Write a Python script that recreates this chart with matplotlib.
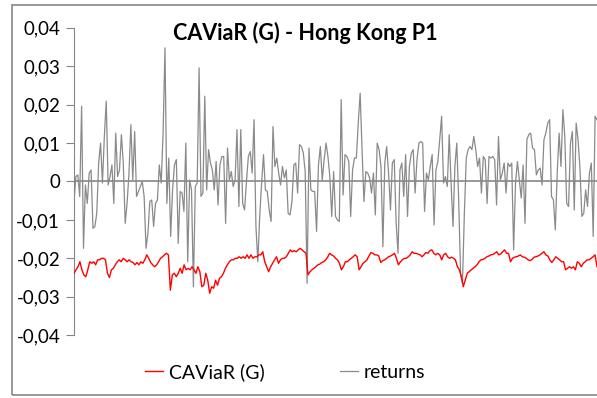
import numpy as np
import matplotlib
matplotlib.use("Agg")
import matplotlib.pyplot as plt
from matplotlib.patches import Rectangle

# values, in units of 1e-4
returns_bp = [
    -50, 13, 17, -39, 196, -174, -9, -57, 22, 30, -122, -117, -83, 48, 100, -4, 117, 209, -9, 13,
    43, -57, 126, 13, 30, 122, 48, -109, -57, 22, 148, 4, 130, -39, -26, -13, 0, -39, -174, -135,
    -52, -48,
    -117, -57, -48, 43, -4, 126, 348, -57, 61, -143, -22, 43, 57, -161, -26, -30, -78, 100, -209, 4,
    -22, -274, -13, -4, 296, -39, -30, 222, -22, 83, 48, 30, -22, 52, -61, 43, 65, 65, -109, 87,
    4, 26, -13, 4, 135, -65,
    135, -57, -74, 0, 65, 78, 22, 161, -117, -209, -91, -4, 70, -22, -26, -74, -104, 143, 39, 61,
    22, -9, 39, 9, 30, -83, -87, -52, 43, 48, -30, 96, 91, 74, 26, -265, 87, -22, -26, -26,
    -130, 43, 91, 4, 57, 100, 65, 13, -91,
    26, -91, -100, -104, 213, -35, 70, 65, 52, -91, 30, 61, 61, 152, 230, 83, -52, 26, 22, 9,
    -30, 22, -87, 100, 83, 39, -170, 48, 91, 22, -74, 48, 57, -109, -187, 30, 48, -39, 70, -91,
    39, 74, 83, -30, 57, 100, 104,
    100, -78, 22, 4, 39, 70, -113, 30, 52, 109, 170, -4, 13, -13, 122, -4, -117, 39, 100, -48,
    -239, -265, -83, 61, 83, 91, 83, 117, 83, 39, 61, -30, 65, 57, -57, 65, 61, 65, 57, -61,
    117, 4, 22, 48, -30, 48,
    39, 48, -178, -4, 52, 4, -43, 43, -109, 109, 122, 126, 87, 83, 17, 30, 35, -9, 109, 126,
    152, 161, -39, -48, -126, 22, 126, 39, 187, 117, -57, -65, 100, 130, -74, 152, 109, 35, -91, -83,
    -22, -65, 22, 48, -143, 170, 161,
]

caviar_bp = [
    -239, -230, -222, -209, -230, -243, -248, -230, -209, -213, -209, -217, -204, -204, -200, -200, -204, -239, -250, -230,
    -226, -217, -209, -204, -209, -200, -204, -209, -204, -209, -211, -217, -211, -217, -209, -213, -204, -191, -200, -211,
    -217, -222,
    -217, -209, -200, -196, -191, -187, -191, -283, -243, -239, -248, -239, -226, -239, -217, -230, -226, -230, -222, -230,
    -239, -222, -235, -274, -270, -239, -257, -291, -274, -278, -257, -270, -252, -248, -239, -226, -217, -209, -204, -204,
    -200, -200, -196, -200, -196, -200, -191, -200,
    -191, -200, -196, -196, -191, -191, -183, -209, -222, -235, -222, -213, -204, -196, -213, -204, -200, -200, -196, -187,
    -178, -183, -180, -183, -178, -174, -178, -183, -187, -243, -235, -230, -226, -222, -217, -215, -211, -209, -204, -197,
    -187,
    -191, -194, -200, -204, -213, -230, -222, -209, -209, -204, -200, -196, -191, -196, -230, -222, -213, -209, -204, -194,
    -185, -187, -191, -191, -194, -211, -206, -204, -200, -196, -194, -191, -187, -200, -217, -209, -204, -200, -200, -196,
    -191, -183, -187,
    -187, -189, -191, -196, -191, -185, -187, -180, -178, -187, -191, -187, -191, -204, -191, -187, -196, -200, -197, -200,
    -204, -222, -230, -248, -274, -257, -239, -235, -230, -226, -222, -217, -209, -204, -203, -200, -196, -194, -191, -190,
    -187, -183, -191, -189, -183, -178,
    -187, -187, -209, -200, -197, -196, -194, -191, -196, -197, -200, -204, -206, -203, -197, -196, -194, -191, -187, -183,
    -191, -194, -204, -211, -204, -196, -200, -204, -209, -209, -230, -226, -222, -226, -222, -230, -209, -213, -222, -213,
    -209, -204, -204, -200, -196, -191, -222,
]

y_ticks = [-0.04, -0.03, -0.02, -0.01, 0, 0.01, 0.02, 0.03, 0.04]
y_labels = ["-0,04", "-0,03", "-0,02", "-0,01", "0", "0,01", "0,02", "0,03", "0,04"]

returns = np.array(returns_bp) / 10000
caviar = np.array(caviar_bp) / 10000

plt.rcParams['font.family'] = ['Lato', 'DejaVu Sans']

fig = plt.figure(figsize=(5.97, 3.98), dpi=100)
ax = fig.add_axes([0.124, 0.158, 0.876, 0.772])

# both series share the same time span
t_ret = np.linspace(0, 1, len(returns))
t_cav = np.linspace(0, 1, len(caviar))

ax.axhline(0, color="#868686", lw=1.2, zorder=1)
ax.plot(t_ret, returns, color="#8a8a8a", lw=0.9, label="returns", zorder=2)
ax.plot(t_cav, caviar, color="#ff0000", lw=1.0, label="CAViaR (G)", zorder=3)

ax.set_xlim(0, 1)
ax.set_ylim(-0.04, 0.04)
ax.set_yticks(y_ticks)
ax.set_yticklabels(y_labels, fontsize=13.5)
ax.set_xticks([])
for s in ["top", "right", "bottom"]:
    ax.spines[s].set_visible(False)
ax.spines["left"].set_color("#868686")
ax.tick_params(axis="y", direction="out", length=6, color="#868686", pad=4)

fig.text(0.511, 0.945, "CAViaR (G) - Hong Kong P1", ha="center", va="top",
         fontsize=15.5, fontweight="bold")

handles, labels = ax.get_legend_handles_labels()
fig.legend(handles[::-1], labels[::-1], loc="center", bbox_to_anchor=(0.478, 0.065),
           ncol=2, frameon=False, fontsize=14, handlelength=0.9, columnspacing=3.9,
           handletextpad=0.3)

# chart area border
fig.patches.append(Rectangle((0.02, 0.008), 0.985, 0.98, transform=fig.transFigure,
                             fill=False, edgecolor="#868686", lw=1.2))

fig.savefig("out.png", dpi=100)
